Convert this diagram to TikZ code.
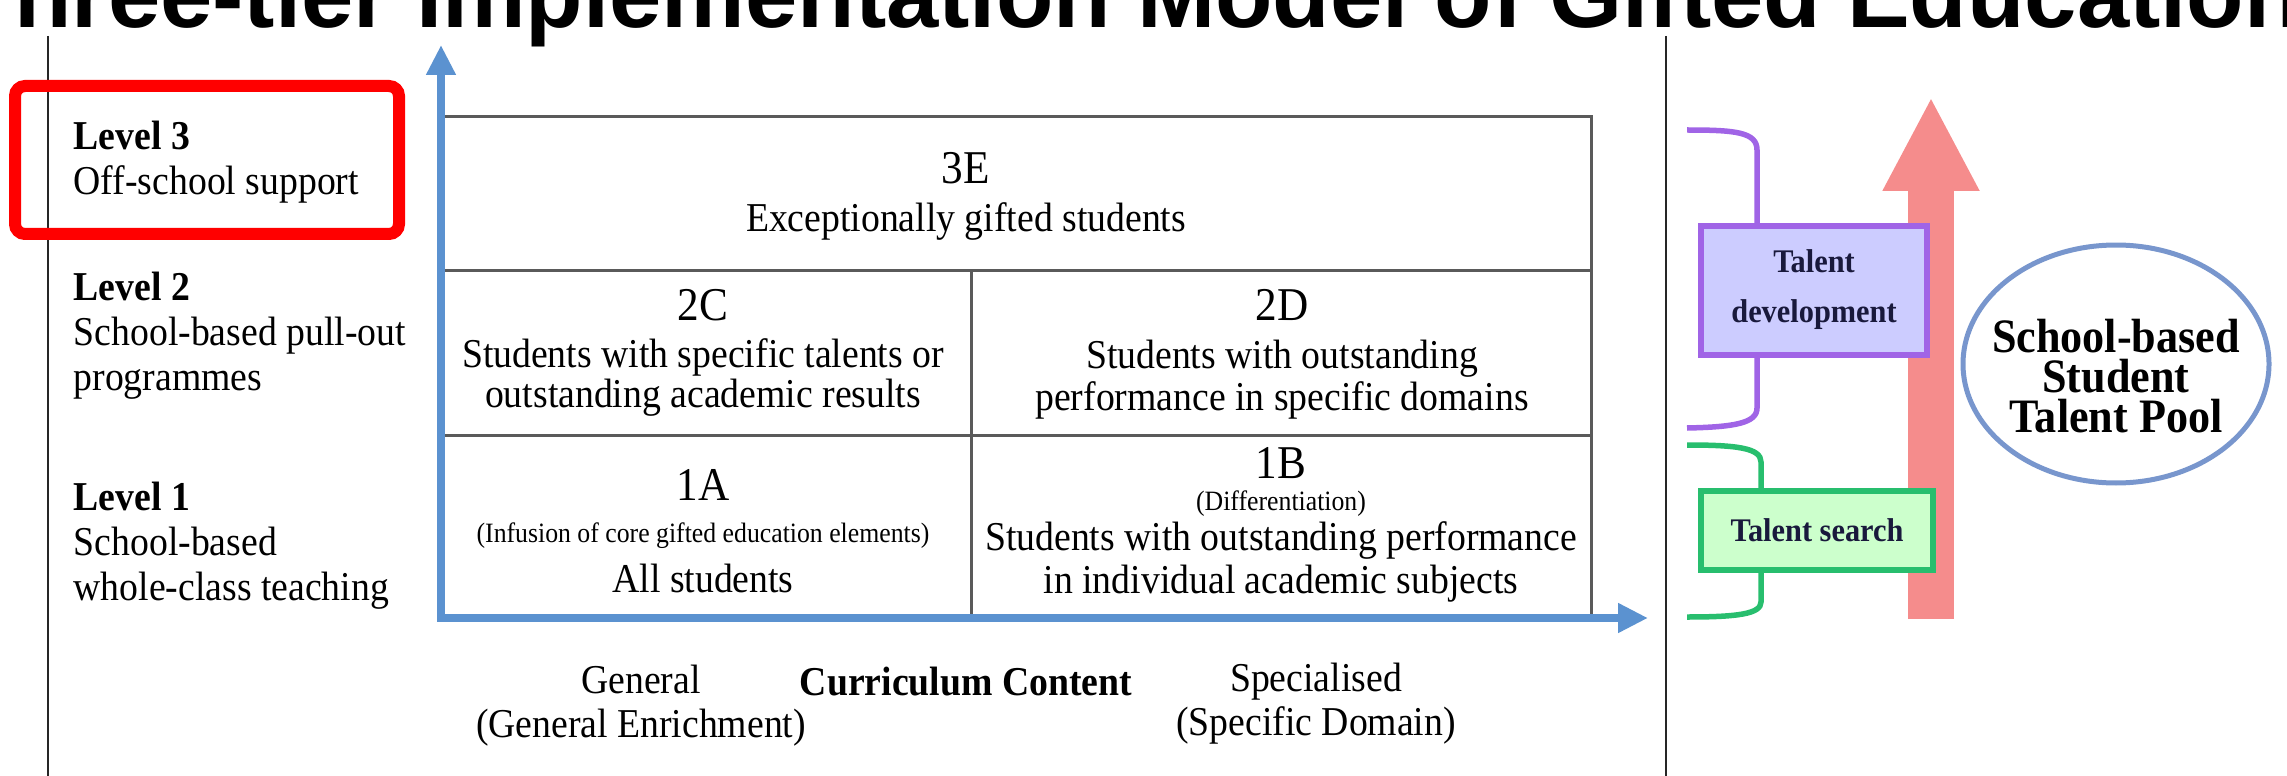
\documentclass[tikz,border=0pt]{standalone}
\usepackage{fontspec}
\setmainfont{Liberation Serif}[FakeStretch=0.92]
\newfontfamily\titlesans{Liberation Sans}
\usepackage{tikz}
\usetikzlibrary{arrows.meta, shapes.geometric, positioning}

\definecolor{axisblue}{RGB}{91,146,208}
\definecolor{gridgray}{RGB}{90,90,90}
\definecolor{talpurple}{RGB}{160,100,230}
\definecolor{talpurplefill}{RGB}{204,204,255}
\definecolor{talgreen}{RGB}{40,190,110}
\definecolor{talgreenfill}{RGB}{204,255,204}
\definecolor{pinkup}{RGB}{245,140,140}
\definecolor{poolblue}{RGB}{120,150,205}
\definecolor{textnavy}{RGB}{25,25,60}

\begin{document}
\begin{tikzpicture}[x=0.1mm, y=-0.1mm,
    lvl/.style={anchor=base west, align=left, inner sep=0, font=\fontsize{4.1mm}{4.5mm}\selectfont},
    cellid/.style={anchor=base, inner sep=0, font=\fontsize{4.7mm}{4.7mm}\selectfont},
    celltxt/.style={anchor=base, align=center, inner sep=0, font=\fontsize{4.1mm}{4.2mm}\selectfont},
    cellnote/.style={anchor=base, inner sep=0, font=\fontsize{2.8mm}{3mm}\selectfont},
    axislabel/.style={anchor=base, align=center, inner sep=0, font=\fontsize{4.1mm}{4.4mm}\selectfont},
    talentbox/.style={draw, line width=0.6mm, inner sep=0, align=center, text=textnavy, font=\bfseries\fontsize{3.3mm}{5mm}\selectfont},
    axis/.style={draw=axisblue, line width=0.8mm, {Triangle[length=3mm, width=2.8mm]}-{Triangle[length=3mm, width=2.8mm]}},
]
    \useasboundingbox (0,0) rectangle (2287,776);

    % title, mostly cut off at the top
    \node[anchor=base west, inner sep=0, font=\titlesans\bfseries\fontsize{9.4mm}{9.4mm}\selectfont] (title) at (-44,28) {Three-tier Implementation Model of Gifted Education};

    % frame lines
    \coordinate (ltop) at (48,36);
    \coordinate (lbot) at (48,776);
    \coordinate (mtop) at (1666,36);
    \coordinate (mbot) at (1666,776);
    \draw[black!85, line width=0.25mm] (ltop) -- (lbot);
    \draw[black!85, line width=0.25mm] (mtop) -- (mbot);

    % grid
    \draw[gridgray, line width=0.3mm] (441,117) rectangle (1591,618);
    \draw[gridgray, line width=0.3mm] (441,270) -- (1591,270);
    \draw[gridgray, line width=0.3mm] (441,435) -- (1591,435);
    \draw[gridgray, line width=0.3mm] (971,270) -- (971,618);

    % axes
    \coordinate (origin) at (441,618);
    \coordinate (ytip) at (441,45);
    \coordinate (xtip) at (1648,618);
    \draw[axis] (ytip) -- (origin) -- (xtip);

    % levels (base = last line)
    \node[draw=red, line width=1.2mm, rounded corners=1mm, minimum width=38.4mm, minimum height=14.8mm] (highlight) at (207,160) {};
    \node[lvl] (lvl3) at (73,195) {\textbf{Level 3}\\Off-school support};
    \node[lvl] (lvl2) at (73,390) {\textbf{Level 2}\\School-based pull-out\\programmes};
    \node[lvl] (lvl1) at (73,600) {\textbf{Level 1}\\School-based\\whole-class teaching};

    % cells
    \node[cellid] (id3E) at (966,184) {3E};
    \node[celltxt] (txt3E) at (966,232) {Exceptionally gifted students};
    \node[cellid] (id2C) at (703,320) {2C};
    \node[celltxt, font=\fontsize{4.1mm}{4.0mm}\selectfont] (txt2C) at (703,407) {Students with specific talents or\\outstanding academic results};
    \node[cellid] (id2D) at (1282,320) {2D};
    \node[celltxt] (txt2D) at (1282,410) {Students with outstanding\\performance in specific domains};
    \node[cellid] (id1A) at (703,500) {1A};
    \node[cellnote] (note1A) at (703,542) {(Infusion of core gifted education elements)};
    \node[celltxt] (txt1A) at (703,592) {All students};
    \node[cellid] (id1B) at (1281,478) {1B};
    \node[cellnote] (note1B) at (1281,510) {(Differentiation)};
    \node[celltxt, font=\fontsize{4.1mm}{4.3mm}\selectfont] (txt1B) at (1281,593) {Students with outstanding performance\\in individual academic subjects};

    % curriculum axis labels
    \node[axislabel] (general) at (641,737) {General\\(General Enrichment)};
    \node[axislabel, font=\bfseries\fontsize{4.1mm}{4.4mm}\selectfont] (curric) at (966,695) {Curriculum Content};
    \node[axislabel] (special) at (1316,735) {Specialised\\(Specific Domain)};

    % brackets
    \draw[talpurple, line width=0.55mm] (1687,130) .. controls (1735,130) and (1757,132) .. (1757,150) -- (1757,408) .. controls (1757,423) and (1735,427) .. (1687,428);
    \draw[talgreen, line width=0.55mm] (1687,445) .. controls (1737,445) and (1761,448) .. (1761,462) -- (1761,602) .. controls (1761,614) and (1737,617) .. (1687,617);

    % upward arrow
    \coordinate (pinkbot) at (1931,619);
    \coordinate (pinktop) at (1931,97);
    \draw[pinkup, line width=4.6mm, -{Triangle[width=9mm, length=9.4mm]}] (pinkbot) -- (pinktop);

    % talent boxes
    \node[talentbox, draw=talpurple, fill=talpurplefill, minimum width=22.6mm, minimum height=12.9mm] (tdev) at (1814,290) {Talent\\development};
    \node[talentbox, draw=talgreen, fill=talgreenfill, minimum width=23.2mm, minimum height=7.9mm] (tsearch) at (1817,530) {Talent search};

    % pool
    \node[ellipse, draw=poolblue, line width=0.5mm, minimum width=30.6mm, minimum height=23.8mm, inner sep=0] (pool) at (2116,364) {};
    \node[align=center, inner sep=0, font=\bfseries\fontsize{4.8mm}{4.0mm}\selectfont] (pooltext) at ([yshift=-1.2mm]pool.center) {School-based\\Student\\Talent Pool};
\end{tikzpicture}
\end{document}
